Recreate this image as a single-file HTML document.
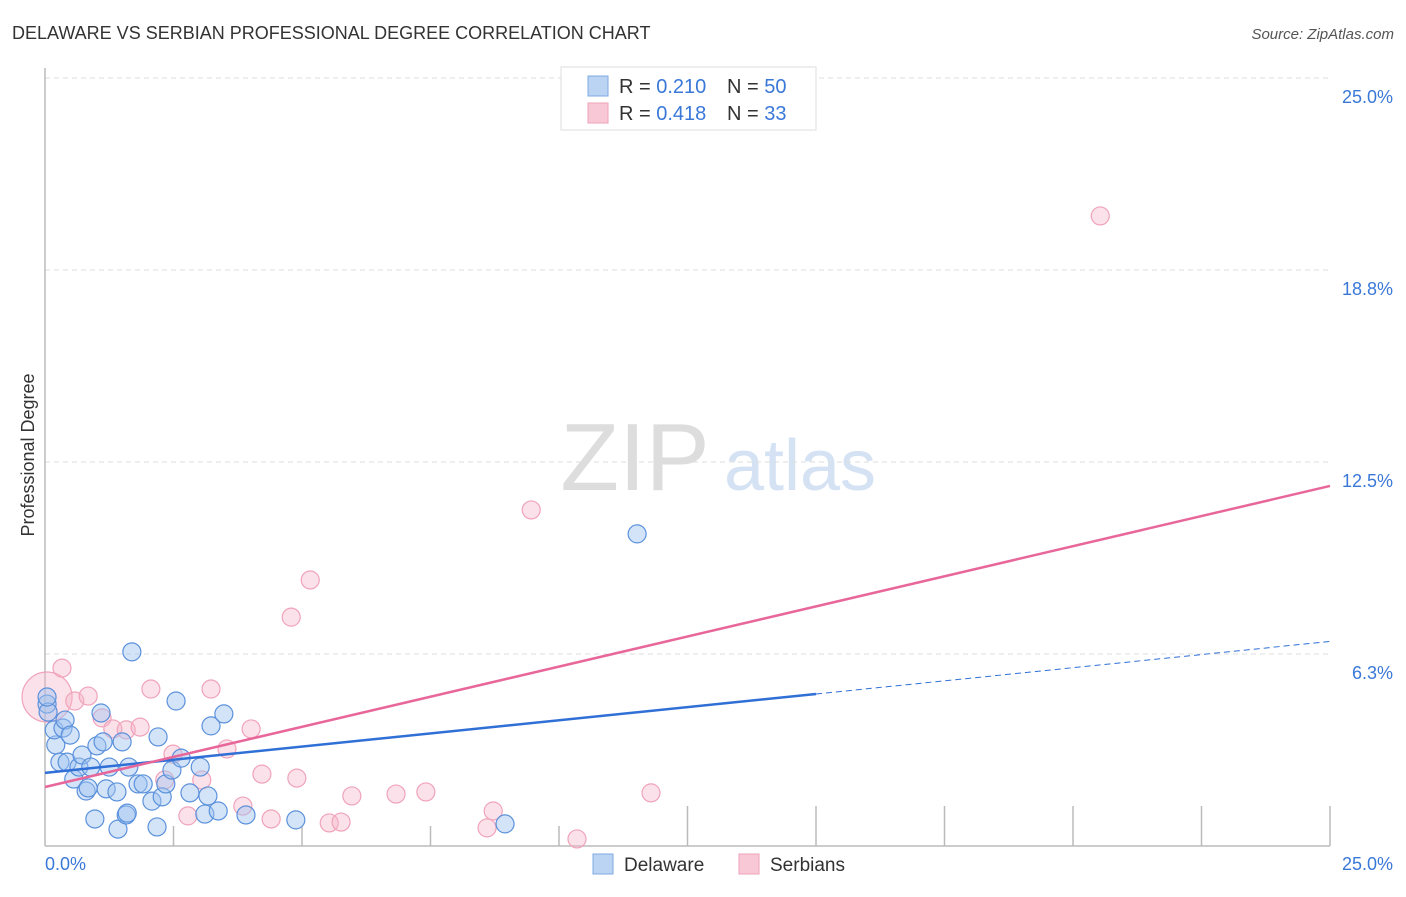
<!DOCTYPE html>
<html><head><meta charset="utf-8"><style>
body{margin:0;background:#fff;font-family:"Liberation Sans",sans-serif;}
svg text{font-family:"Liberation Sans",sans-serif;}
</style></head><body>
<svg id="chart" width="1406" height="892">
<text x="12" y="39" font-size="18" fill="#333">DELAWARE VS SERBIAN PROFESSIONAL DEGREE CORRELATION CHART</text>
<text x="1394" y="39" font-size="15" fill="#555" font-style="italic" text-anchor="end">Source: ZipAtlas.com</text>
<g>
<text x="635" y="490" font-size="96" fill="#ddd" text-anchor="middle" font-family="Liberation Serif,serif">ZIP</text>
<text x="800" y="490" font-size="72" fill="#d4e2f4" text-anchor="middle">atlas</text>
</g>
<g id="grid"></g>
<g id="axes"></g>
<g id="marks"></g>
<text transform="translate(34,455) rotate(-90)" font-size="18" fill="#333" text-anchor="middle">Professional Degree</text>
<g>
<rect x="561" y="67" width="255" height="63" fill="#fff" stroke="#ddd"/>
<rect x="588" y="76" width="20" height="20" fill="#bcd4f4" stroke="#7fa8e0"/>
<rect x="588" y="103" width="20" height="20" fill="#f9c8d6" stroke="#eea2b8"/>
<text x="619" y="93" font-size="20" fill="#333">R = <tspan fill="#3a78d8">0.210</tspan></text>
<text x="727" y="93" font-size="20" fill="#333">N = <tspan fill="#3a78d8">50</tspan></text>
<text x="619" y="120" font-size="20" fill="#333">R = <tspan fill="#3a78d8">0.418</tspan></text>
<text x="727" y="120" font-size="20" fill="#333">N = <tspan fill="#3a78d8"> 33</tspan></text>
</g>
<g>
<rect x="593" y="854" width="20" height="20" fill="#bcd4f4" stroke="#7fa8e0"/>
<text x="624" y="871" font-size="19" fill="#333">Delaware</text>
<rect x="739" y="854" width="20" height="20" fill="#f9c8d6" stroke="#eea2b8"/>
<text x="770" y="871" font-size="19" fill="#333">Serbians</text>
</g>
</svg>
<script>
const yTicks=[6.25,12.5,18.75,25];
const yTickLabels=["6.3%","12.5%","18.8%","25.0%"];
const xTicks=[0,2.5,5,7.5,10,12.5,15,17.5,20,22.5,25];
const xTickLabels=["0.0%","25.0%"];
const delX=[0.04,0.06,0.21,0.18,0.29,0.35,0.39,0.43,0.49,0.56,0.66,0.72,0.80,0.84,0.89,0.97,1.01,1.09,1.13,1.19,1.25,1.40,1.42,1.50,1.58,1.60,1.63,1.69,1.81,1.91,2.08,2.18,2.20,2.28,2.35,2.47,2.55,2.65,2.82,3.02,3.11,3.17,3.23,3.37,3.48,3.91,4.88,8.95,11.52,0.04];
const delY=[4.62,4.36,3.29,3.78,2.73,3.84,4.10,2.73,3.61,2.18,2.57,2.96,1.79,1.89,2.57,0.88,3.26,4.33,3.39,1.86,2.57,1.76,0.55,3.39,1.01,1.07,2.57,6.32,2.02,2.02,1.46,0.62,3.55,1.60,2.02,2.47,4.72,2.86,1.73,2.57,1.04,1.63,3.91,1.14,4.30,1.01,0.85,0.72,10.16,4.85];
const serX=[0.04,0.33,0.58,0.84,1.11,1.32,1.58,1.85,2.06,2.33,2.49,2.78,3.05,3.23,3.54,4.01,4.22,3.85,4.40,4.79,4.90,5.16,5.53,5.76,5.97,6.83,7.41,8.60,8.72,9.46,10.35,11.79,20.53];
const serY=[4.85,5.79,4.72,4.88,4.17,3.81,3.78,3.87,5.11,2.15,2.99,0.98,2.15,5.11,3.16,3.81,2.34,1.30,0.88,7.45,2.21,8.66,0.75,0.78,1.63,1.69,1.76,0.59,1.14,10.94,0.23,1.73,20.51];
const delTrend=[2.38,6.66];
const serTrend=[1.92,11.72];
const delSolidEnd=15;

const X=v=>45+v/25*1285;
const Y=v=>846-v/25*768;
const NS="http://www.w3.org/2000/svg";
function mk(parent,tag,attrs){const e=document.createElementNS(NS,tag);for(const k in attrs)e.setAttribute(k,attrs[k]);document.getElementById(parent).appendChild(e);return e;}

yTicks.forEach((t,i)=>{
 const l=mk('grid','line',{x1:45,x2:1330,y1:Y(t),y2:Y(t),stroke:'#ddd','stroke-dasharray':'5,4'});
 
 
 const tx=mk('axes','text',{x:1393,y:Y(t)+25,'font-size':18,fill:'#3a78d8','text-anchor':'end'});
 tx.textContent=yTickLabels[i];
 
 
});
const ax=mk('axes','line',{x1:45,x2:45,y1:68,y2:846,stroke:'#bbb','stroke-width':1.5});


const bx=mk('axes','line',{x1:45,x2:1330,y1:846,y2:846,stroke:'#bbb','stroke-width':1.5});


xTicks.forEach((t,i)=>{
 if(i===0)return;
 const tk=mk('axes','line',{x1:X(t),x2:X(t),y1:i<5?826:806,y2:846,stroke:'#bbb','stroke-width':1.5});
 
 
});
const xl0=mk('axes','text',{x:45,y:870,'font-size':18,fill:'#3a78d8'});
xl0.textContent=xTickLabels[0];


const xl1=mk('axes','text',{x:1393,y:870,'font-size':18,fill:'#3a78d8','text-anchor':'end'});
xl1.textContent=xTickLabels[1];



serX.forEach((x,i)=>{
 const c=mk('marks','circle',{cx:X(x),cy:Y(serY[i]),r:i===0?25:9,fill:'rgba(246,180,200,0.4)',stroke:'#f0a3ba','stroke-width':1.2});
 
 
});
delX.forEach((x,i)=>{
 const c=mk('marks','circle',{cx:X(x),cy:Y(delY[i]),r:9,fill:'rgba(160,196,240,0.45)',stroke:'#5b91dc','stroke-width':1.2});
 
 
});
const ds=delTrend[0]+(delTrend[1]-delTrend[0])*delSolidEnd/25;
const t1=mk('marks','line',{x1:X(0),y1:Y(delTrend[0]),x2:X(delSolidEnd),y2:Y(ds),stroke:'#2f6fd6','stroke-width':2.5});


const t2=mk('marks','line',{x1:X(delSolidEnd),y1:Y(ds),x2:X(25),y2:Y(delTrend[1]),stroke:'#2f6fd6','stroke-width':1,'stroke-dasharray':'6,4'});


const t3=mk('marks','line',{x1:X(0),y1:Y(serTrend[0]),x2:X(25),y2:Y(serTrend[1]),stroke:'#e8679a','stroke-width':2.5});


</script>
</body></html>
